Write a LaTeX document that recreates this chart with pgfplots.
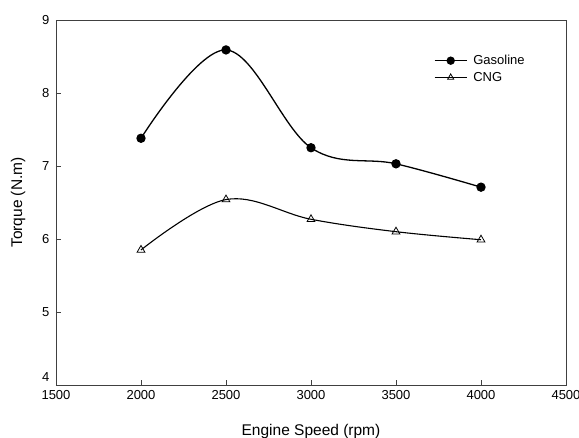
\documentclass[border=0pt]{standalone}
\usepackage{fontspec}
\setmainfont{Liberation Sans}
\usepackage{pgfplots}
\pgfplotsset{compat=1.18}
\begin{document}
\begin{tikzpicture}
\useasboundingbox (-56pt,-53pt) rectangle (523pt,385pt);
\begin{axis}[
    scale only axis,
    width=510pt, height=365pt,
    xmin=1500, xmax=4500, ymin=4, ymax=9,
    xtick={1500,2000,...,4500}, ytick={5,6,...,9},
    extra y ticks={4},
    extra y tick style={yticklabel style={yshift=8pt}},
    tick align=inside, tick pos=left,
    major tick length=5pt,
    /pgf/number format/assume math mode=true,
    /pgf/number format/1000 sep={},
    ticklabel style={font=\fontsize{13}{15}\selectfont},
    xticklabel style={yshift=-2pt},
    yticklabel style={xshift=-3pt},
    label style={font=\fontsize{15.5}{18}\selectfont},
    xlabel={Engine Speed (rpm)}, ylabel={Torque (N.m)},
    xlabel style={yshift=-18pt},
    ylabel style={yshift=10pt},
    axis line style={line width=0.8pt, black!75},
    every tick/.style={line width=0.8pt, black!75},
    legend style={draw=none, fill=none, at={(0.735,0.915)}, anchor=north west,
        font=\fontsize{13}{15}\selectfont, row sep=2pt,
        nodes={inner xsep=6pt}},
    legend cell align=left,
    legend image code/.code={\draw[mark repeat=2, mark phase=2, mark size=3.5pt]
        plot coordinates {(0pt,0pt) (16pt,0pt) (32pt,0pt)};},
]
\addplot[black, line width=1.3pt, smooth, tension=0.6, mark=*, mark size=4pt]
    coordinates {(2000,7.38)(2500,8.59)(3000,7.25)(3500,7.03)(4000,6.71)};
\addplot[black, line width=1.1pt, smooth, tension=0.6, mark=triangle, mark size=4.5pt,
    mark options={fill=white, line width=0.8pt}]
    coordinates {(2000,5.85)(2500,6.54)(3000,6.27)(3500,6.10)(4000,5.99)};
\legend{Gasoline, CNG}
\end{axis}
\end{tikzpicture}
\end{document}
